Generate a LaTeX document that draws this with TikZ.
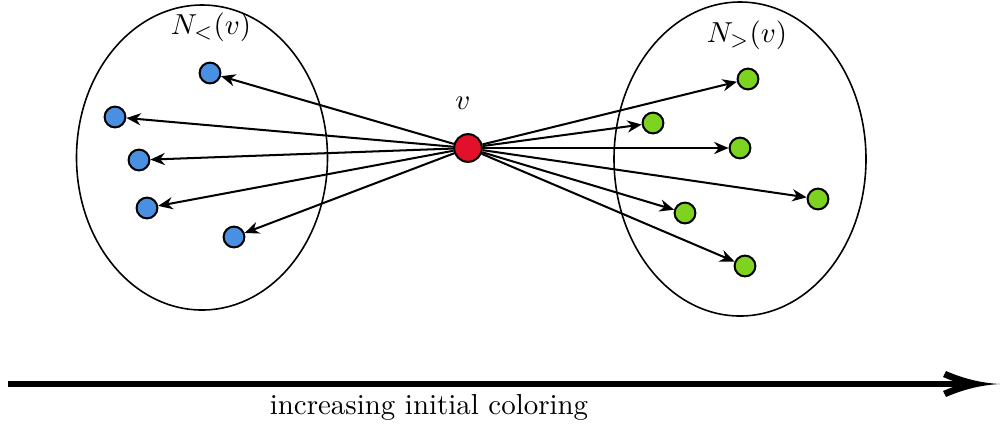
\documentclass[tikz,border=0pt]{standalone}
\usetikzlibrary{arrows.meta}
\definecolor{nblue}{RGB}{74,144,226}
\definecolor{ngreen}{RGB}{126,211,33}
\definecolor{nred}{RGB}{227,16,43}
\begin{document}
\begin{tikzpicture}[x=0.346pt,y=-0.346pt,
  dot/.style={circle,draw=black,line width=0.7pt,inner sep=0pt,minimum size=7.2pt},
  bdot/.style={dot,fill=nblue},
  gdot/.style={dot,fill=ngreen},
  vdot/.style={circle,draw=black,line width=0.7pt,inner sep=0pt,minimum size=9.6pt,fill=nred},
  edge/.style={line width=0.7pt,-{Stealth[length=5pt,width=4.2pt,inset=1.6pt]}},
  set/.style={draw=black,line width=0.55pt}]
\useasboundingbox (0,0) rectangle (1002,427);
% ellipses
\draw[set] (202,157.5) ellipse [x radius=125.5, y radius=152.5];
\draw[set] (740,159) ellipse [x radius=126, y radius=157];
\node at (211,27) {$N_<(v)$};
\node at (747,35) {$N_>(v)$};
% nodes
\node[vdot] (v) at (468,148) {};
\node at (463,103) {$v$};
\node[bdot] (b1) at (210,73) {};
\node[bdot] (b2) at (115,117) {};
\node[bdot] (b3) at (139,160) {};
\node[bdot] (b4) at (147,208) {};
\node[bdot] (b5) at (234,237) {};
\node[gdot] (g1) at (748,79) {};
\node[gdot] (g2) at (653,123) {};
\node[gdot] (g3) at (740,148) {};
\node[gdot] (g4) at (818,199) {};
\node[gdot] (g5) at (685,213) {};
\node[gdot] (g6) at (745,266) {};
% edges
\foreach \t in {b1,b2,b3,b4,b5,g1,g2,g3,g4,g5,g6}
  \draw[edge] (v) -- (\t);
% axis
\coordinate (a0) at (8,384);
\coordinate (a1) at (1000,384);
\draw[line width=2pt,shorten >=15pt] (a0) -- (a1);
\fill[shift={(a1)}] (0,0) .. controls (-20,-1) and (-38,-6) .. (-54,-13)
  -- (-57,-7) .. controls (-52,-5) and (-50,-4) .. (-47,-3)
  -- (-47,3) .. controls (-50,4) and (-52,5) .. (-57,7)
  -- (-54,13) .. controls (-38,6) and (-20,1) .. (0,0) -- cycle;
\node (lab) at (429,407) {increasing initial coloring};
\end{tikzpicture}
\end{document}
